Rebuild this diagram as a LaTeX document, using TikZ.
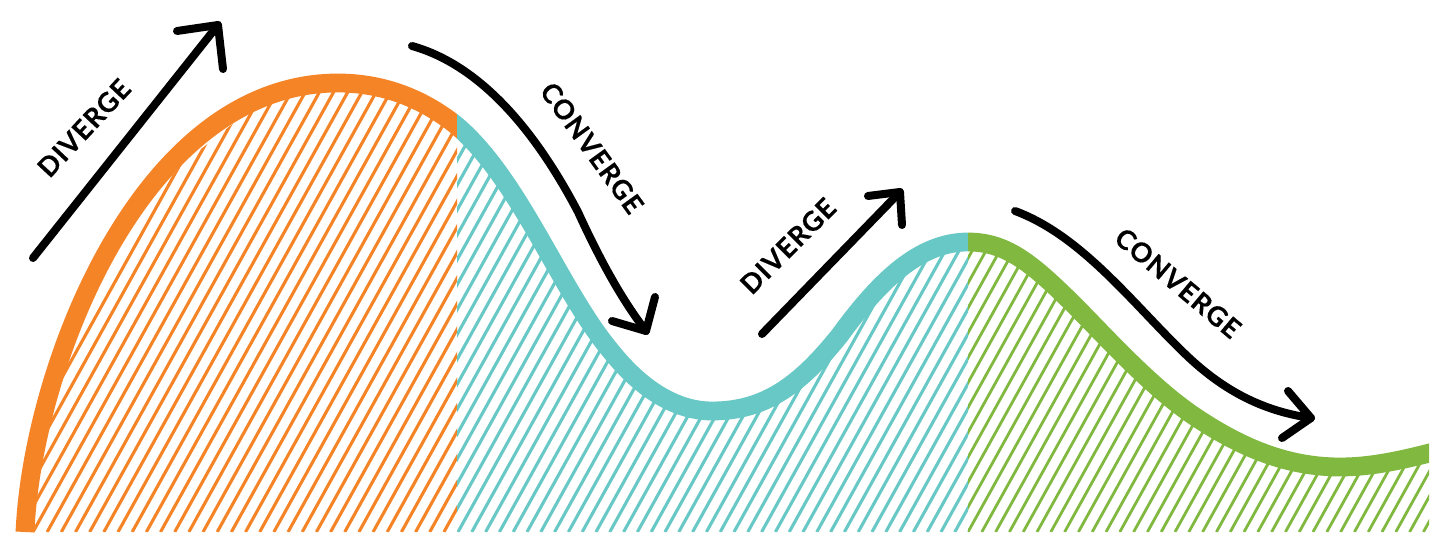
\documentclass[tikz,border=0pt]{standalone}
\usepackage{fontspec}
\setmainfont{Lato}
\newfontfamily\lblfont[BoldFeatures={FakeBold=0.3,LetterSpace=4}]{Lato}
\definecolor{orangec}{HTML}{F58427}
\definecolor{tealc}{HTML}{68C8C5}
\definecolor{greenc}{HTML}{80B840}
\newcommand{\wavepath}{(25,532) .. controls (32,370) and (140,83) .. (338,83)
  .. controls (385,83) and (425,100) .. (457,126)
  .. controls (520,180) and (560,290) .. (610,350)
  .. controls (640,388) and (675,411) .. (712,411)
  .. controls (765,411) and (800,385) .. (840,335)
  .. controls (880,280) and (920,242) .. (968,242)
  .. controls (1005,242) and (1030,262) .. (1067,298)
  .. controls (1100,330) and (1150,388) .. (1200,420)
  .. controls (1240,446) and (1285,467) .. (1340,467)
  .. controls (1370,467) and (1400,461) .. (1445,449)}
\begin{document}
\begin{tikzpicture}[x=0.5pt,y=-0.5pt,
  band/.style={line width=9.4pt},
  hatch/.style={line width=1.55pt},
  hatchthin/.style={line width=1.4pt},
  arrowline/.style={draw=black,line width=4pt,line cap=round,line join=round},
  lbl/.style={font=\lblfont\bfseries\fontsize{13.5}{14}\selectfont,text=black,inner sep=0pt}]
\useasboundingbox (0,0) rectangle (1442,545);
\fill[white] (0,0) rectangle (1442,545);
% hatching
\begin{scope}
  \clip \wavepath -- (1445,532) -- cycle;
  \begin{scope}
    \clip (33,532) -- (40,470) -- (48,430) -- (57,390) -- (75,332) -- (145,207)
      -- (183,163) -- (210,142) -- (300,70) -- (457,70) -- (457,532) -- cycle;
    \foreach \k in {-22,...,31} \draw[orangec,hatch] ({33+14.17*\k},532) -- ++(295,-532);
  \end{scope}
  \begin{scope}
    \clip (457,0) rectangle (968,532);
    \foreach \k in {-22,...,38} \draw[tealc,hatch] ({458+13.8*\k},532) -- ++(295,-532);
  \end{scope}
  \begin{scope}
    \clip (968,0) rectangle (1429,532);
    \foreach \k in {-22,...,34} \draw[greenc,hatchthin] ({968+13.8*\k},532) -- ++(295,-532);
  \end{scope}
\end{scope}
% thick curve
\begin{scope}
  \clip (0,0) rectangle (457,532);
  \draw[orangec,band] \wavepath;
\end{scope}
\begin{scope}
  \clip (457,0) rectangle (968,532);
  \draw[tealc,band] \wavepath;
\end{scope}
\begin{scope}
  \clip (968,0) rectangle (1429,532);
  \draw[greenc,band] \wavepath;
\end{scope}
% arrows
\coordinate (a1s) at (33,258); \coordinate (a1t) at (218,25);
\coordinate (a1l) at (177,31); \coordinate (a1r) at (223,69);
\draw[arrowline] (a1s) -- (a1t);
\draw[arrowline] (a1l) -- (a1t) -- (a1r);
\coordinate (a2s) at (412,46); \coordinate (a2t) at (646,331);
\coordinate (a2l) at (612,321); \coordinate (a2r) at (655,297);
\draw[arrowline] (a2s) .. controls (480,65) and (535,130) .. (578,212)
  .. controls (600,260) and (622,300) .. (a2t);
\draw[arrowline] (a2l) -- (a2t) -- (a2r);
\coordinate (a3s) at (762,334); \coordinate (a3t) at (900,192);
\coordinate (a3l) at (868,196); \coordinate (a3r) at (902,225);
\draw[arrowline] (a3s) -- (a3t);
\draw[arrowline] (a3l) -- (a3t) -- (a3r);
\coordinate (a4s) at (1015,211); \coordinate (a4t) at (1311,418);
\coordinate (a4l) at (1288,391); \coordinate (a4r) at (1282,438);
\draw[arrowline] (a4s) .. controls (1080,235) and (1130,300) .. (1180,349)
  .. controls (1215,384) and (1255,410) .. (a4t);
\draw[arrowline] (a4l) -- (a4t) -- (a4r);
% labels
\node[lbl,rotate=47] (d1) at (84,128) {DIVERGE};
\node[lbl,rotate=-54] (c1) at (592,148) {CONVERGE};
\node[lbl,rotate=45] (d2) at (788,246) {DIVERGE};
\node[lbl,rotate=-40] (c2) at (1178,283) {CONVERGE};
\end{tikzpicture}
\end{document}
